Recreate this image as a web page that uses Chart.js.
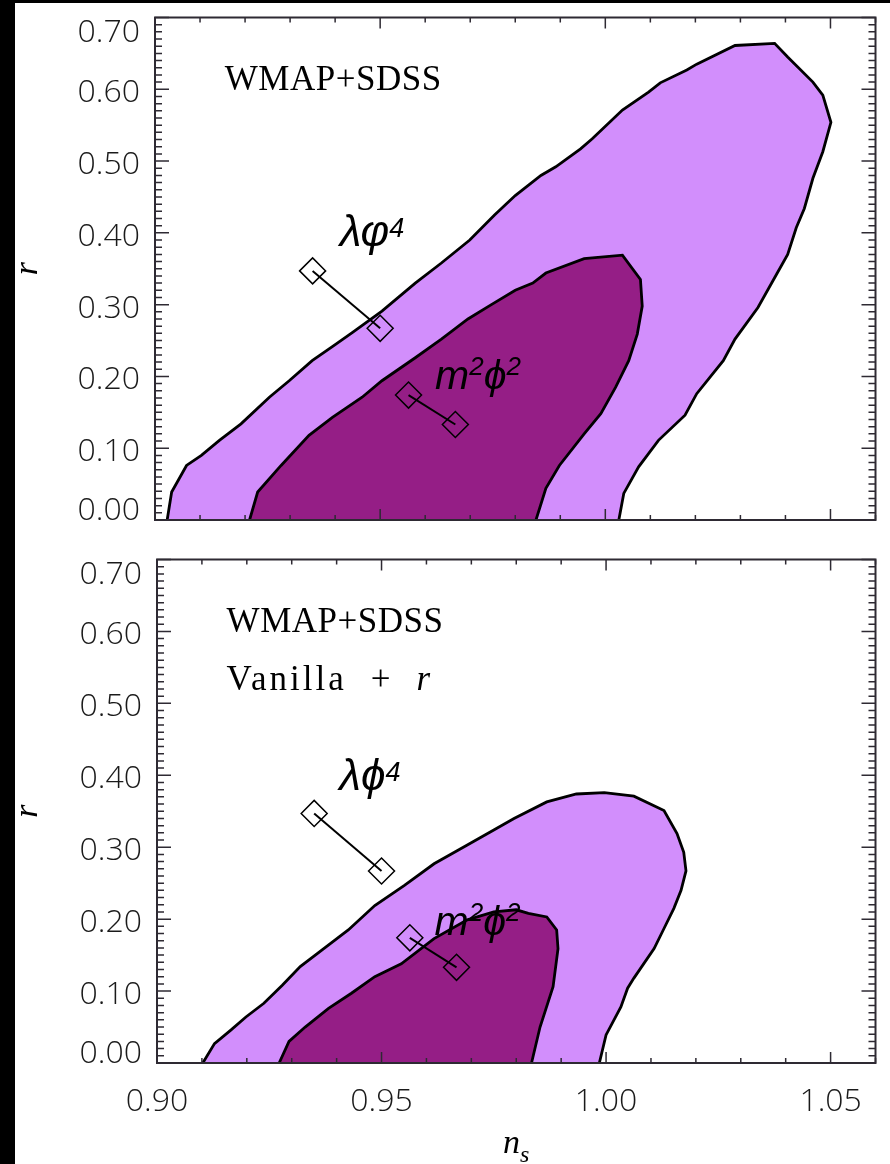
<!DOCTYPE html>
<html>
<head>
<meta charset="utf-8">
<script src="https://cdn.jsdelivr.net/npm/chart.js@4.4.1/dist/chart.umd.min.js"></script>
<style>
  html, body { margin: 0; padding: 0; background: #000; }
  #sheet { position: absolute; left: 15px; top: 3px; width: 875px; height: 1161px; background: #fff; }
  canvas { position: absolute; left: 0; }
  #topPanel { top: 0; }
  #bottomPanel { top: 542px; }
</style>
</head>
<body>
<div id="sheet">
  <canvas id="topPanel" width="875" height="542"></canvas>
  <canvas id="bottomPanel" width="875" height="619"></canvas>
</div>
<script>
// axis limits and tick labels
const NS_MIN = 0.90, NS_MAX = 1.06;
const R_MIN = 0.00, R_MAX = 0.70;
const nsTicks = [0.90, 0.95, 1.00, 1.05];
const rTicks = [0.00, 0.10, 0.20, 0.30, 0.40, 0.50, 0.60, 0.70];
const minorStep = 0.01;

// WMAP+SDSS contours (outer = 95%, inner = 68%)
const topOuterNs = [0.9027,0.9037,0.9070,0.9103,0.9143,0.9191,0.9254,0.9298,0.9349,0.9397,0.9438,0.9504,0.9578,0.9636,0.9699,0.9754,0.9800,0.9857,0.9890,0.9945,0.9971,1.0038,1.0096,1.0122,1.0181,1.0203,1.0288,1.0376,1.0405,1.0461,1.0483,1.0501,1.0483,1.0461,1.0442,1.0424,1.0405,1.0380,1.0339,1.0288,1.0262,1.0203,1.0177,1.0118,1.0074,1.0041,1.0030];
const topOuterR  = [0,0.039,0.076,0.090,0.111,0.134,0.171,0.194,0.222,0.243,0.261,0.291,0.330,0.358,0.390,0.425,0.452,0.480,0.492,0.517,0.531,0.571,0.596,0.609,0.627,0.635,0.661,0.664,0.645,0.610,0.592,0.554,0.513,0.476,0.434,0.407,0.370,0.342,0.296,0.252,0.222,0.176,0.146,0.111,0.074,0.037,0];
const topInnerNs = [0.9210,0.9228,0.9280,0.9342,0.9394,0.9460,0.9504,0.9578,0.9636,0.9695,0.9747,0.9800,0.9839,0.9868,0.9953,1.0038,1.0078,1.0082,1.0071,1.0052,1.0023,0.9990,0.9953,0.9898,0.9868,0.9846];
const topInnerR  = [0,0.039,0.076,0.118,0.143,0.171,0.194,0.226,0.252,0.280,0.300,0.320,0.330,0.344,0.364,0.369,0.335,0.298,0.259,0.222,0.185,0.148,0.120,0.076,0.044,0];

// Vanilla + r contours
const botOuterNs = [0.9102,0.9128,0.9165,0.9198,0.9238,0.9279,0.9319,0.9367,0.9426,0.9485,0.9551,0.9617,0.9691,0.9750,0.9795,0.9868,0.9934,0.9996,1.0062,1.0129,1.0158,1.0173,1.0178,1.0167,1.0151,1.0129,1.0107,1.0062,1.0048,1.0033,1.0000,0.9985];
const botOuterR  = [0,0.027,0.046,0.064,0.083,0.108,0.134,0.157,0.185,0.219,0.247,0.277,0.303,0.324,0.340,0.363,0.374,0.376,0.371,0.351,0.319,0.293,0.267,0.240,0.215,0.187,0.159,0.118,0.104,0.078,0.039,0];
const botInnerNs = [0.9272,0.9294,0.9330,0.9382,0.9433,0.9485,0.9544,0.9617,0.9691,0.9750,0.9800,0.9827,0.9868,0.9890,0.9893,0.9882,0.9853,0.9834];
const botInnerR  = [0,0.030,0.050,0.076,0.097,0.120,0.138,0.173,0.199,0.210,0.213,0.208,0.203,0.185,0.159,0.106,0.050,0];

// model predictions (N = 50 .. 60 e-folds)
const lambdaPhi4Ns = [0.935, 0.950];
const lambdaPhi4R  = [0.347, 0.267];
const m2Phi2Ns = [0.9563, 0.9667];
const m2Phi2R  = [0.174, 0.133];

const LIGHT = 'rgb(210,142,252)';
const DARK = 'rgb(149,30,134)';
const AXIS_COLOR = '#2e2a33';
const TICK_FAMILY = "'Open Sans', 'DejaVu Sans', sans-serif";
const TICK_FONT = "300 32px " + TICK_FAMILY;
const SERIF = "'Liberation Serif', 'Times New Roman', serif";
const SANS = "'Liberation Sans', 'DejaVu Sans', sans-serif";

function pts(xs, ys) {
  return xs.map((v, i) => ({x: v, y: ys[i]}));
}

function isMajor(v, list) {
  return list.some(t => Math.abs(t - v) < 1e-6);
}

// draw a run of text pieces one after another
function drawRich(ctx, x, y, parts) {
  parts.forEach(p => {
    ctx.font = p.font;
    ctx.letterSpacing = p.spacing || '0px';
    const px = p.at !== undefined ? x + p.at : x;
    ctx.fillText(p.t, px, y - (p.dy || 0));
    x = px + ctx.measureText(p.t).width;
  });
  ctx.letterSpacing = '0px';
}

// IDL style frame with inward ticks on all four sides, plus labels
function idlAxes(notes, xTitle) {
  return {
    id: 'idlAxes',
    afterDatasetsDraw(chart) {
      const {ctx, chartArea: a, scales: {x, y}} = chart;
      ctx.save();
      ctx.strokeStyle = AXIS_COLOR;
      ctx.lineWidth = 1.5;
      ctx.beginPath();
      const nx = Math.round((NS_MAX - NS_MIN) / minorStep);
      for (let i = 0; i <= nx; i++) {
        const v = NS_MIN + i * minorStep;
        const px = x.getPixelForValue(v);
        const len = isMajor(v, nsTicks) ? 11 : 5;
        ctx.moveTo(px, a.bottom); ctx.lineTo(px, a.bottom - len);
        ctx.moveTo(px, a.top); ctx.lineTo(px, a.top + len);
      }
      const ny = Math.round((R_MAX - R_MIN) / minorStep);
      for (let i = 0; i <= ny; i++) {
        const v = R_MIN + i * minorStep;
        const py = y.getPixelForValue(v);
        const len = isMajor(v, rTicks) ? 14 : 7;
        ctx.moveTo(a.left, py); ctx.lineTo(a.left + len, py);
        ctx.moveTo(a.right, py); ctx.lineTo(a.right - len, py);
      }
      ctx.stroke();
      ctx.lineWidth = 2;
      ctx.strokeRect(a.left, a.top, a.width, a.height);
      ctx.restore();
    },
    afterDraw(chart) {
      const {ctx, chartArea: a, scales: {x, y}} = chart;
      ctx.save();
      ctx.fillStyle = '#1a1a1a';
      ctx.textAlign = 'right';
      ctx.textBaseline = 'alphabetic';
      ctx.font = TICK_FONT;
      rTicks.forEach(v => {
        let by = y.getPixelForValue(v) + 13;
        by = Math.min(Math.max(by, a.top + 24), a.bottom);
        ctx.fillText(v.toFixed(2), a.left - 15, by);
      });

      // y title
      ctx.save();
      ctx.translate(22, (a.top + a.bottom) / 2);
      ctx.rotate(-Math.PI / 2);
      ctx.textAlign = 'center';
      ctx.fillStyle = '#000';
      ctx.font = 'italic 34px ' + SERIF;
      ctx.fillText('r', 0, 0);
      ctx.restore();

      // annotations
      ctx.textAlign = 'left';
      ctx.fillStyle = '#000';
      notes.forEach(n => {
        drawRich(ctx, x.getPixelForValue(n.x), y.getPixelForValue(n.y), n.parts);
      });

      // x title
      if (xTitle) {
        const cx = (a.left + a.right) / 2;
        ctx.font = 'italic 34px ' + SERIF;
        const wn = ctx.measureText('n').width;
        ctx.font = 'italic 24px ' + SERIF;
        const ws = ctx.measureText('s').width;
        drawRich(ctx, cx - (wn + ws) / 2, a.bottom + 90, [
          {t: 'n', font: 'italic 34px ' + SERIF},
          {t: 's', font: 'italic 24px ' + SERIF, dy: -9}
        ]);
      }
      ctx.restore();
    }
  };
}

function contour(ns, r, color, order) {
  return {
    data: pts(ns, r), showLine: true, fill: 'shape', tension: 0,
    backgroundColor: color, borderColor: '#000', borderWidth: 2.8,
    pointRadius: 0, order: order
  };
}

function model(ns, r) {
  return {
    data: pts(ns, r), showLine: true, fill: false, tension: 0,
    borderColor: '#000', borderWidth: 2,
    pointStyle: 'rectRot', pointRadius: 13, pointBorderWidth: 1.5,
    pointBackgroundColor: 'rgba(0,0,0,0)', pointBorderColor: '#000', order: 1
  };
}

const wmapNote = {x: 0.9155, y: 0.599, parts: [{t: 'WMAP+SDSS', font: '35px ' + SERIF, spacing: '0.5px'}]};

function makePanel(id, outer, inner, opts) {
  new Chart(document.getElementById(id), {
    type: 'scatter',
    data: {
      datasets: [
        model(lambdaPhi4Ns, lambdaPhi4R),
        model(m2Phi2Ns, m2Phi2R),
        contour(inner[0], inner[1], DARK, 3),
        contour(outer[0], outer[1], LIGHT, 4)
      ]
    },
    options: {
      responsive: false,
      animation: false,
      events: [],
      layout: {padding: opts.padding},
      plugins: {
        legend: {display: false},
        tooltip: {enabled: false}
      },
      scales: {
        x: {
          type: 'linear', min: NS_MIN, max: NS_MAX,
          grid: {display: false, drawTicks: false},
          border: {display: false},
          afterBuildTicks: s => { s.ticks = nsTicks.map(v => ({value: v})); },
          ticks: {
            display: opts.xLabels, padding: 20, maxRotation: 0, autoSkip: false,
            color: '#1a1a1a',
            font: {family: TICK_FAMILY, size: 32, weight: '300'},
            callback: v => Number(v).toFixed(2)
          },
          afterFit: s => { s.height = opts.xHeight; }
        },
        y: {
          type: 'linear', min: R_MIN, max: R_MAX,
          grid: {display: false, drawTicks: false},
          border: {display: false},
          ticks: {display: false},
          afterFit: s => { s.width = opts.yWidth; }
        }
      }
    },
    plugins: [idlAxes(opts.notes, opts.xLabels)]
  });
}

makePanel('topPanel', [topOuterNs, topOuterR], [topInnerNs, topInnerR], {
  padding: {top: 12, right: 9, left: 0, bottom: 0},
  xHeight: 25, yWidth: 140, xLabels: false,
  notes: [
    wmapNote,
    {x: 0.9410, y: 0.381, parts: [
      {t: 'λφ', font: 'italic 44px ' + SANS},
      {t: '4', font: 'italic 27px ' + SANS, dy: 9}
    ]},
    {x: 0.9622, y: 0.183, parts: [
      {t: 'm', font: 'italic 41px ' + SANS},
      {t: '2', font: 'italic 26px ' + SANS, dy: 14},
      {t: 'ϕ', font: 'italic 41px ' + SANS},
      {t: '2', font: 'italic 26px ' + SANS, dy: 14}
    ]}
  ]
});

makePanel('bottomPanel', [botOuterNs, botOuterR], [botInnerNs, botInnerR], {
  padding: {top: 14, right: 8, left: 0, bottom: 0},
  xHeight: 101, yWidth: 142, xLabels: true,
  notes: [
    wmapNote,
    {x: 0.9155, y: 0.519, parts: [
      {t: 'Vanilla', font: '35px ' + SERIF, spacing: '3px'},
      {t: '+', font: '35px ' + SERIF, at: 24},
      {t: 'r', font: 'italic 35px ' + SERIF, at: 26}
    ]},
    {x: 0.9406, y: 0.379, parts: [
      {t: 'λϕ', font: 'italic 44px ' + SANS},
      {t: '4', font: 'italic 27px ' + SANS, dy: 9}
    ]},
    {x: 0.9618, y: 0.178, parts: [
      {t: 'm', font: 'italic 41px ' + SANS},
      {t: '2', font: 'italic 26px ' + SANS, dy: 14},
      {t: 'ϕ', font: 'italic 41px ' + SANS},
      {t: '2', font: 'italic 26px ' + SANS, dy: 14}
    ]}
  ]
});
</script>
</body>
</html>
